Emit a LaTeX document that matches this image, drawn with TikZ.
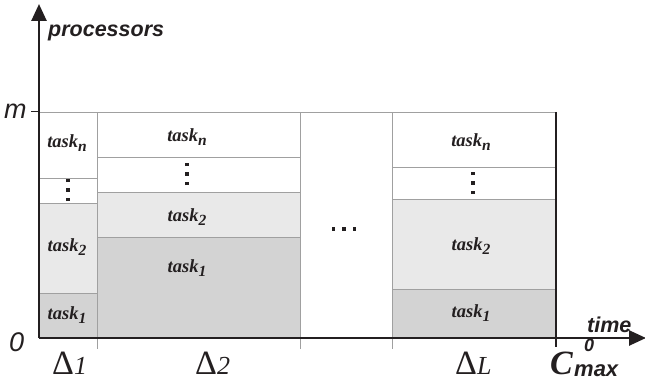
\documentclass[tikz,border=0pt]{standalone}
\usepackage{fontspec}
\setmainfont{Liberation Serif}
\setsansfont{Liberation Sans}
\usetikzlibrary{arrows.meta}

\definecolor{gridline}{HTML}{A0A0A0}
\definecolor{shadeone}{HTML}{D3D3D3}
\definecolor{shadetwo}{HTML}{E9E9E9}
\definecolor{axisink}{HTML}{231F20}

% task label: bold italic "task" with a lowered index
\newcommand\tasklbl[1]{\fontsize{18.5}{18.5}\selectfont\bfseries\itshape task\raisebox{-4.5pt}{\fontsize{15.5}{15.5}\selectfont #1}}
% bold square dots
\newcommand\sqdot{\rule{3.5pt}{3.5pt}}
\newcommand\vdotsq{\shortstack{\sqdot\\[3pt]\sqdot\\[3pt]\sqdot}}
\newcommand\hdotsq{\sqdot\hspace{7pt}\sqdot\hspace{7pt}\sqdot}

\begin{document}
\begin{tikzpicture}[x=1pt,y=-1pt,
  cell/.style={draw=gridline, line width=0.9pt},
  lbl/.style={inner sep=0pt, text=axisink},
  axisline/.style={draw=axisink, line width=2.6pt, -{Triangle[length=17pt,width=15pt]}},
  axisfont/.style={font=\sffamily\bfseries\itshape\fontsize{21.5}{21.5}\selectfont, inner sep=0pt, text=axisink, anchor=base west},
  marklbl/.style={font=\sffamily\itshape\fontsize{27}{27}\selectfont, inner sep=0pt, text=axisink, anchor=base west},
  deltalbl/.style={font=\fontsize{34}{34}\selectfont, inner sep=0pt, text=axisink, anchor=base west}
]
\useasboundingbox (0,0) rectangle (645,382);

% column 1
\draw[cell] (39,112) rectangle (97,178);
\draw[cell] (39,178) rectangle (97,203);
\draw[cell, fill=shadetwo] (39,203) rectangle (97,293);
\draw[cell, fill=shadeone] (39,293) rectangle (97,338);
% column 2
\draw[cell] (97,112) rectangle (300,157);
\draw[cell] (97,157) rectangle (300,192);
\draw[cell, fill=shadetwo] (97,192) rectangle (300,237);
\draw[cell, fill=shadeone] (97,237) rectangle (300,338);
% column 3 (omitted intervals)
\draw[cell] (300,112) rectangle (392,338);
% last column
\draw[cell] (392,112) rectangle (556,167);
\draw[cell] (392,167) rectangle (556,199);
\draw[cell, fill=shadetwo] (392,199) rectangle (556,289);
\draw[cell, fill=shadeone] (392,289) rectangle (556,338);

% interval ticks below the time axis
\coordinate (b1) at (97,338);  \coordinate (t1) at (97,349);
\coordinate (b2) at (300,338); \coordinate (t2) at (300,349);
\coordinate (b3) at (392,338); \coordinate (t3) at (392,349);
\draw[gridline, line width=0.8pt] (b1) -- (t1) (b2) -- (t2) (b3) -- (t3);

% cell labels
\node[lbl] (c1n) at (67,143) {\tasklbl{n}};
\node[lbl] (c1d) at (68,190) {\vdotsq};
\node[lbl] (c1b) at (67,247) {\tasklbl{2}};
\node[lbl] (c1a) at (67,315) {\tasklbl{1}};
\node[lbl] (c2n) at (187,137) {\tasklbl{n}};
\node[lbl] (c2d) at (187,174) {\vdotsq};
\node[lbl] (c2b) at (187,217) {\tasklbl{2}};
\node[lbl] (c2a) at (187,268) {\tasklbl{1}};
\node[lbl] (gap) at (344,229) {\hdotsq};
\node[lbl] (c4n) at (471,142) {\tasklbl{n}};
\node[lbl] (c4d) at (473,183) {\vdotsq};
\node[lbl] (c4b) at (471,246) {\tasklbl{2}};
\node[lbl] (c4a) at (471,313) {\tasklbl{1}};

% makespan line
\coordinate (cmTop) at (556,112);
\coordinate (cmBot) at (556,347);
\draw[axisink, line width=2.4pt] (cmTop) -- (cmBot);

% axes
\coordinate (origin) at (39,338);
\coordinate (ytip) at (39,4);
\coordinate (xtip) at (646,338);
\coordinate (mtick) at (31,112);
\coordinate (mstart) at (39,112);
\draw[axisink, line width=1pt] (mtick) -- (mstart);
\draw[axisline] (origin) -- (ytip);
\draw[axisline] (origin) -- (xtip);

% axis labels
\node[axisfont] (ylab) at (48,37) {processors};
\node[axisfont] (xlab) at (587,332) {time};
\node[marklbl] (mlab) at (4,119) {m};
\node[marklbl] (zlab) at (9,351) {0};

% interval labels
\node[deltalbl] (d1) at (52,374) {Δ{\itshape\fontsize{26}{26}\selectfont 1}};
\node[deltalbl] (d2) at (195,374) {Δ{\itshape\fontsize{26}{26}\selectfont 2}};
\node[deltalbl] (dL) at (455,374) {Δ{\itshape\fontsize{26}{26}\selectfont L}};

% makespan label
\node[deltalbl, font=\bfseries\itshape\fontsize{34}{34}\selectfont] (cmax) at (550,374) {C};
\node[axisfont, font=\sffamily\bfseries\itshape\fontsize{22}{22}\selectfont] (cmaxsub) at (574,376) {max};
\node[axisfont, font=\sffamily\bfseries\itshape\fontsize{18}{18}\selectfont] (cmaxsup) at (584,351) {0};
\end{tikzpicture}
\end{document}
